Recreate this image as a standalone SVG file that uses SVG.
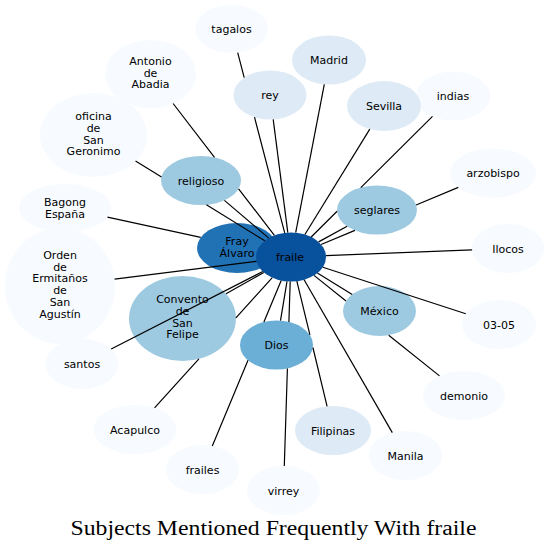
<svg xmlns="http://www.w3.org/2000/svg" width="549" height="551" viewBox="0 0 549 551">
<style>
  .n text { font-family: "DejaVu Sans", "Noto Sans", sans-serif; font-size: 11px; fill: #000; text-anchor: middle; }
  .c0 { fill: #f7fbff; }
  .c1 { fill: #deebf7; }
  .c3 { fill: #9ecae1; }
  .c4 { fill: #6baed6; }
  .c6 { fill: #2171b5; }
  .c7 { fill: #08519c; }
  #connectors path { fill: none; stroke: #000; stroke-width: 1.2; }
  .title { font-family: "Liberation Serif", "DejaVu Serif", serif; font-size: 20px; fill: #000; text-anchor: middle; }
</style>
<rect width="549" height="551" fill="#fff"/>
<g id="nodes">
  <g id="n-tagalos" class="n"><ellipse class="c0" cx="231.5" cy="29" rx="36.5" ry="24"/><text x="231.5" y="32.5">tagalos</text></g>
  <g id="n-antonio" class="n"><ellipse class="c0" cx="150.5" cy="74" rx="45.5" ry="34"/><text x="150.5" y="65">Antonio<tspan x="150.5" dy="11.7">de</tspan><tspan x="150.5" dy="11.7">Abadia</tspan></text></g>
  <g id="n-oficina" class="n"><ellipse class="c0" cx="93.5" cy="135" rx="53.5" ry="42"/><text x="93.5" y="120.2">oficina<tspan x="93.5" dy="11.7">de</tspan><tspan x="93.5" dy="11.7">San</tspan><tspan x="93.5" dy="11.7">Geronimo</tspan></text></g>
  <g id="n-bagong" class="n"><ellipse class="c0" cx="65" cy="208" rx="46" ry="24"/><text x="65" y="206">Bagong<tspan x="65" dy="11.5">España</tspan></text></g>
  <g id="n-orden" class="n"><ellipse class="c0" cx="60" cy="286" rx="55" ry="58"/><text x="60" y="259">Orden<tspan x="60" dy="11.7">de</tspan><tspan x="60" dy="11.7">Ermitaños</tspan><tspan x="60" dy="11.7">de</tspan><tspan x="60" dy="11.7">San</tspan><tspan x="60" dy="11.7">Agustín</tspan></text></g>
  <g id="n-santos" class="n"><ellipse class="c0" cx="82" cy="364" rx="36.5" ry="25"/><text x="82" y="368">santos</text></g>
  <g id="n-acapulco" class="n"><ellipse class="c0" cx="135" cy="429.5" rx="41.5" ry="24.5"/><text x="135" y="433.5">Acapulco</text></g>
  <g id="n-frailes" class="n"><ellipse class="c0" cx="202.5" cy="469.5" rx="36.5" ry="24.5"/><text x="202.5" y="473.5">frailes</text></g>
  <g id="n-virrey" class="n"><ellipse class="c0" cx="283.5" cy="490.5" rx="36.5" ry="24.5"/><text x="283.5" y="494.5">virrey</text></g>
  <g id="n-filipinas" class="n"><ellipse class="c1" cx="333" cy="430.5" rx="38" ry="24.5"/><text x="333" y="434.5">Filipinas</text></g>
  <g id="n-manila" class="n"><ellipse class="c0" cx="405.5" cy="455.5" rx="36.5" ry="24.5"/><text x="405.5" y="459.5">Manila</text></g>
  <g id="n-demonio" class="n"><ellipse class="c0" cx="464" cy="395.5" rx="41" ry="24.5"/><text x="464" y="399.5">demonio</text></g>
  <g id="n-0305" class="n"><ellipse class="c0" cx="499" cy="324.5" rx="37" ry="24.5"/><text x="499" y="328.5">03-05</text></g>
  <g id="n-ilocos" class="n"><ellipse class="c0" cx="508" cy="248.5" rx="36" ry="24.5"/><text x="508" y="252.5">Ilocos</text></g>
  <g id="n-arzobispo" class="n"><ellipse class="c0" cx="493" cy="173" rx="43" ry="24.5"/><text x="493" y="177">arzobispo</text></g>
  <g id="n-indias" class="n"><ellipse class="c0" cx="453" cy="96" rx="37" ry="24.5"/><text x="453" y="100">indias</text></g>
  <g id="n-sevilla" class="n"><ellipse class="c1" cx="384" cy="106" rx="37" ry="25"/><text x="384" y="110">Sevilla</text></g>
  <g id="n-madrid" class="n"><ellipse class="c1" cx="329" cy="60" rx="37" ry="24.5"/><text x="329" y="64">Madrid</text></g>
  <g id="n-rey" class="n"><ellipse class="c1" cx="270" cy="95" rx="36.5" ry="24.5"/><text x="270" y="99">rey</text></g>
  <g id="n-religioso" class="n"><ellipse class="c3" cx="201" cy="180.5" rx="40" ry="24.5"/><text x="201" y="184.5">religioso</text></g>
  <g id="n-seglares" class="n"><ellipse class="c3" cx="377" cy="210" rx="40" ry="24.5"/><text x="377" y="214">seglares</text></g>
  <g id="n-mexico" class="n"><ellipse class="c3" cx="379.5" cy="311" rx="36.5" ry="25"/><text x="379.5" y="315">México</text></g>
  <g id="n-convento" class="n"><ellipse class="c3" cx="182.5" cy="318.5" rx="53.5" ry="42.5"/><text x="182.5" y="303.3">Convento<tspan x="182.5" dy="11.7">de</tspan><tspan x="182.5" dy="11.7">San</tspan><tspan x="182.5" dy="11.7">Felipe</tspan></text></g>
  <g id="n-dios" class="n"><ellipse class="c4" cx="276.5" cy="345" rx="36.5" ry="24.5"/><text x="276.5" y="349">Dios</text></g>
  <g id="n-fray" class="n"><ellipse class="c6" cx="237" cy="248" rx="40" ry="25"/><text x="237" y="245.2">Fray<tspan x="237" dy="11.8">Álvaro</tspan></text></g>
  <g id="n-fraile" class="n"><ellipse class="c7" cx="291" cy="257" rx="35" ry="24.5"/><text x="290" y="261">fraile</text></g>
</g>
<g id="connectors">
  <path d="M284.7,232.9 L254.5,117.2 M244.2,77.6 L237.7,52.6"/>
  <path d="M274.4,235.4 L238.6,188.8 M214.5,157.4 L173.1,103.5"/>
  <path d="M264.75,240.8 L206.4,204.75 M161.5,177 L135.55,161"/>
  <path d="M268.75,238.1 L224.4,200.4"/>
  <path d="M287.8,232.6 L273.2,119.4"/>
  <path d="M295.7,232.7 L324.3,84.3"/>
  <path d="M304.9,234.5 L369.8,129.1"/>
  <path d="M311.2,237 L337.1,211.2 M360.8,187.6 L432.5,116.4"/>
  <path d="M318.6,241.9 L347.15,226.3"/>
  <path d="M321.1,244.5 L354.9,230.4 M416.1,205 L458.3,187.4"/>
  <path d="M325.9,255.6 L472.1,249.9"/>
  <path d="M322.8,267.3 L465.8,313.7"/>
  <path d="M317.4,273.1 L352.2,294.4"/>
  <path d="M314,275.4 L346,301 M388.7,335.2 L439.5,375.9"/>
  <path d="M304.1,279.7 L392.3,432.65"/>
  <path d="M296.85,281.15 L309.9,334.9 M312.9,347.5 L327.1,406.3"/>
  <path d="M290.2,281.5 L288.9,322 M287.4,368.4 L284.3,466"/>
  <path d="M287,281.3 L280.5,320.65"/>
  <path d="M281.2,280.5 L263.9,322 M248,360.3 L212.3,445.9"/>
  <path d="M272.3,277.7 L235.9,317.9 M198.9,358.9 L154.55,407.9"/>
  <path d="M263.8,272.4 L226.05,293.8"/>
  <path d="M262.75,271.5 L111.2,349"/>
  <path d="M256.55,261.3 L114.6,279.1"/>
  <path d="M200.7,237.4 L107.5,217.2"/>
</g>
<text class="title" x="273.5" y="535" textLength="406" lengthAdjust="spacingAndGlyphs">Subjects Mentioned Frequently With fraile</text>
</svg>
